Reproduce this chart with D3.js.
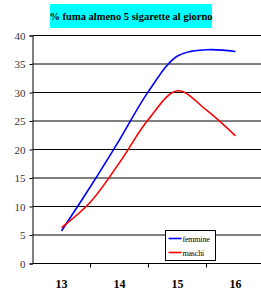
<!DOCTYPE html>
<html>
<head>
<meta charset="utf-8">
<script src="https://cdn.jsdelivr.net/npm/d3@7"></script>
<style>
  body { margin: 0; background: #fff; }
  svg { display: block; }
  svg text { font-family: "Liberation Serif", "DejaVu Serif", serif !important; }
</style>
</head>
<body>
<script>
// data
const categories = ["13", "14", "15", "16"];
const ages = [13, 13.5, 14, 14.5, 15, 15.5, 16];
const femmine = [5.7, 13.5, 21.7, 30.2, 36.4, 37.5, 37.2];
const maschi = [6.3, 10.8, 17.7, 25.3, 30.3, 26.9, 22.4];
const yTicks = [0, 5, 10, 15, 20, 25, 30, 35, 40];
const title = "% fuma almeno 5 sigarette al giorno";

const W = 261, H = 291;
const margin = { left: 32.5, top: 35.5, right: -3.5, bottom: 27.5 };

const svg = d3.select("body").append("svg")
    .attr("width", W)
    .attr("height", H);

// scales
const x = d3.scaleBand()
    .domain(categories)
    .range([margin.left, W - margin.right])
    .padding(0);

// numeric age -> centre of the category band
const xAge = d3.scaleLinear()
    .domain([+categories[0], +categories[categories.length - 1]])
    .range([x(categories[0]) + x.bandwidth() / 2,
            x(categories[categories.length - 1]) + x.bandwidth() / 2]);

const y = d3.scaleLinear()
    .domain([0, 40])
    .range([H - margin.bottom, margin.top]);

//title box
const title_g = svg.append("g").attr("class", "title_g");
title_g.append("rect")
    .attr("x", 50).attr("y", 4)
    .attr("width", 162).attr("height", 24)
    .attr("fill", "#00ffff");
title_g.append("text")
    .attr("x", 131).attr("y", 20)
    .attr("text-anchor", "middle")
    .attr("font-size", 10.5)
    .attr("font-weight", "bold")
    .text(title);

//grid
svg.append("g").attr("class", "grid")
    .selectAll("line")
    .data(yTicks.filter(d => d > 0))
    .join("line")
    .attr("x1", margin.left).attr("x2", W)
    .attr("y1", d => y(d)).attr("y2", d => y(d))
    .attr("stroke", "#000")
    .attr("stroke-width", 1);

// y axis
const yAxis = svg.append("g")
    .attr("transform", "translate(" + margin.left + ",0)")
    .call(d3.axisLeft(y).tickValues(yTicks).tickSize(3).tickPadding(4));
yAxis.select(".domain").attr("stroke", "#000");
yAxis.selectAll("text")
    .attr("font-size", 11)
    .attr("fill", "#333");

// x axis: ticks on band edges, labels in band centres
const xAxis_g = svg.append("g").attr("class", "x_axis");
xAxis_g.append("line")
    .attr("x1", margin.left).attr("x2", W)
    .attr("y1", y(0)).attr("y2", y(0))
    .attr("stroke", "#000");
xAxis_g.selectAll("line.tick")
    .data(categories.slice(1))
    .join("line")
    .attr("class", "tick")
    .attr("x1", d => x(d)).attr("x2", d => x(d))
    .attr("y1", y(0)).attr("y2", y(0) + 4)
    .attr("stroke", "#000");
xAxis_g.selectAll("text")
    .data(categories)
    .join("text")
    .attr("x", d => x(d) + x.bandwidth() / 2)
    .attr("y", 288)
    .attr("text-anchor", "middle")
    .attr("font-size", 12)
    .attr("font-weight", "bold")
    .text(d => d);

// lines
const line = d3.line()
    .x((d, i) => xAge(ages[i]))
    .y(d => y(d))
    .curve(d3.curveCatmullRom.alpha(0.5));

const series = [
    { name: "femmine", values: femmine, color: "#0000ff" },
    { name: "maschi", values: maschi, color: "#ff0000" }
];

svg.append("g").attr("class", "lines_g")
    .selectAll("path")
    .data(series)
    .join("path")
    .attr("d", d => line(d.values))
    .attr("fill", "none")
    .attr("stroke", d => d.color)
    .attr("stroke-width", 1.6);

//legend
const legend_g = svg.append("g").attr("transform", "translate(165.5,230.5)");
legend_g.append("rect")
    .attr("width", 50).attr("height", 30)
    .attr("fill", "#fff")
    .attr("stroke", "#000");
const items = legend_g.selectAll("g")
    .data(series)
    .join("g")
    .attr("transform", (d, i) => "translate(0," + (8 + i * 14) + ")");
items.append("line")
    .attr("x1", 3).attr("x2", 16)
    .attr("stroke", d => d.color)
    .attr("stroke-width", 1.6);
items.append("text")
    .attr("x", 17).attr("y", 3)
    .attr("font-size", 8)
    .attr("letter-spacing", -0.2)
    .text(d => d.name);
</script>
</body>
</html>
